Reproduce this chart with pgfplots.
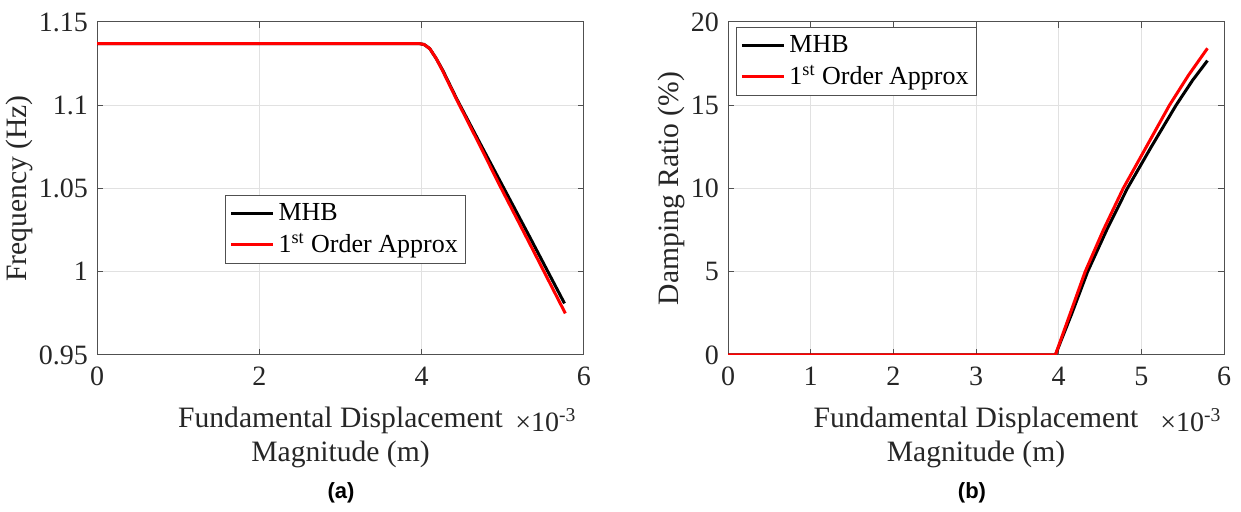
\documentclass[border=0pt]{standalone}
\usepackage{fontspec}
\setmainfont{Liberation Serif}
\newfontfamily\arialfont{Liberation Sans}
\usepackage{pgfplots}
\pgfplotsset{compat=1.18}

\definecolor{axcol}{RGB}{80,80,80}
\definecolor{gridcol}{RGB}{225,225,225}

\pgfplotsset{
  mstyle/.style={
    scale only axis,
    clip mode=individual,
    axis line style={axcol, line width=0.5pt},
    tick style={axcol, line width=0.5pt},
    major tick length=3pt,
    tick align=inside,
    xtick pos=both, ytick pos=both,
    grid=major,
    grid style={gridcol, line width=0.5pt},
    ticklabel style={font=\fontsize{14}{16}\selectfont, text=black!85},
    xticklabel style={yshift=-2.5pt},
    yticklabel style={xshift=-1pt},
    label style={font=\fontsize{14.8}{17}\selectfont, text=black!85},
    xlabel style={align=center, at={(axis description cs:0.5,0)}, anchor=north, yshift=-26pt, inner sep=0pt},
    ylabel style={yshift=-4pt},
    legend style={font=\fontsize{13}{15}\selectfont, draw=axcol, line width=0.5pt,
      inner xsep=2pt, inner ysep=2pt, row sep=1pt, cells={anchor=west}},
    legend image code/.code={\draw[#1] (0pt,0pt) -- (21pt,0pt);},
    every axis plot/.append style={line width=1.5pt},
  }
}

\begin{document}
\begin{tikzpicture}
\path[use as bounding box] (0pt,0pt) rectangle (620.5pt,256pt);

% (a) frequency
\begin{axis}[mstyle,
  at={(48.5pt,78.5pt)}, anchor=south west,
  width=243.5pt, height=166.5pt,
  xmin=0, xmax=6, ymin=0.95, ymax=1.15,
  xtick={0,2,4,6}, xticklabels={0,2,4,6},
  ytick={0.95,1,1.05,1.1,1.15}, yticklabels={0.95,1,1.05,1.1,1.15},
  xlabel={Fundamental Displacement\\Magnitude (m)},
  ylabel={Frequency (Hz)},
  legend style={at={(0.263,0.48)}, anchor=north west},
]
\addplot[black] coordinates {(0,1.137)(3.97,1.137)(4.03,1.1365)(4.10,1.134)(4.18,1.128)(4.26,1.121)(4.35,1.112)(4.43,1.104)(4.71,1.078)(4.96,1.055)(5.33,1.021)(5.76,0.981)};
\addlegendentry{MHB}
\addplot[red] coordinates {(0,1.137)(3.97,1.137)(4.03,1.1365)(4.10,1.134)(4.18,1.128)(4.26,1.1205)(4.35,1.1115)(4.43,1.1035)(4.71,1.0765)(4.96,1.052)(5.33,1.017)(5.77,0.975)};
\addlegendentry{1\textsuperscript{st} Order Approx}
\node[anchor=base west, inner sep=0pt, font=\fontsize{14}{16}\selectfont, text=black!85]
  at (rel axis cs:1,0) [xshift=-34.5pt, yshift=-38.5pt] {×10\textsuperscript{-3}};
\end{axis}

% (b) damping
\begin{axis}[mstyle,
  at={(364pt,78.5pt)}, anchor=south west,
  width=248pt, height=166.5pt,
  xmin=0, xmax=6, ymin=0, ymax=20,
  xtick={0,1,2,3,4,5,6}, xticklabels={0,1,2,3,4,5,6},
  ytick={0,5,10,15,20}, yticklabels={0,5,10,15,20},
  xlabel={Fundamental Displacement\\Magnitude (m)},
  ylabel={Damping Ratio (\%)},
  legend style={at={(0.016,0.985)}, anchor=north west},
]
\addplot[black] coordinates {(0,0)(3.96,0)(4.16,2.5)(4.35,5)(4.58,7.5)(4.83,10)(5.12,12.5)(5.42,15)(5.62,16.5)(5.80,17.68)};
\addlegendentry{MHB}
\addplot[red] coordinates {(0,0)(3.96,0)(4.14,2.5)(4.32,5)(4.54,7.5)(4.78,10)(5.06,12.5)(5.34,15)(5.57,16.8)(5.80,18.42)};
\addlegendentry{1\textsuperscript{st} Order Approx}
\node[anchor=base west, inner sep=0pt, font=\fontsize{14}{16}\selectfont, text=black!85]
  at (rel axis cs:1,0) [xshift=-32pt, yshift=-38.5pt] {×10\textsuperscript{-3}};
\end{axis}

\node[font=\arialfont\bfseries\fontsize{11}{13}\selectfont] at (170.5pt,9.5pt) {(a)};
\node[font=\arialfont\bfseries\fontsize{11}{13}\selectfont] at (486pt,9.5pt) {(b)};
\end{tikzpicture}
\end{document}
